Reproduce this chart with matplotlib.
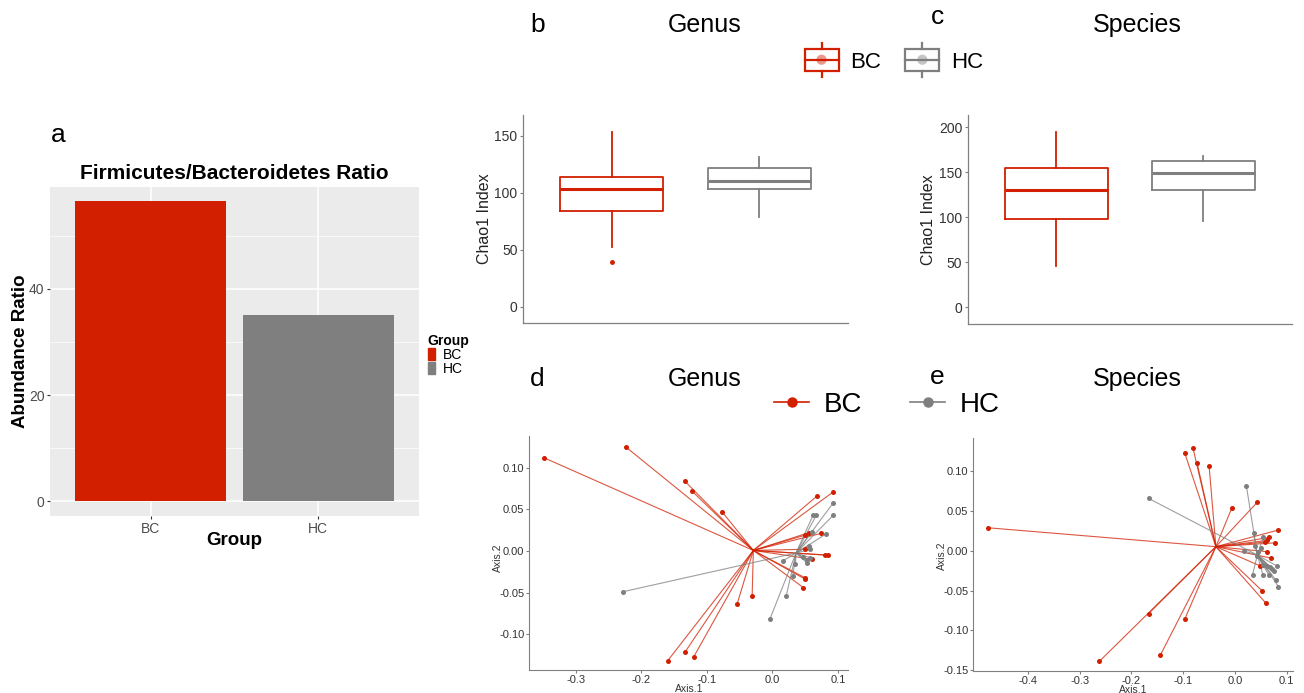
import matplotlib
matplotlib.use("Agg")
import numpy as np
from matplotlib import pyplot as plt
from matplotlib.legend_handler import HandlerBase
from matplotlib.lines import Line2D
from matplotlib.patches import Patch, Rectangle, Circle

plt.rcParams['font.family'] = ['Liberation Sans', 'DejaVu Sans']

# panel a - F/B ratio
ratio_groups = ['BC', 'HC']
ratio_values = [56.5, 35.1]
ratio_yticks = [0, 20, 40]

# panels b, c - Chao1 boxes: whislo, q1, med, q3, whishi
genus_chao_bc = [52.6, 84.2, 103.2, 113.5, 153.2]
genus_chao_bc_out = [39.2]
genus_chao_hc = [78.4, 103.2, 110.3, 121.4, 131.6]
genus_chao_hc_out = []
species_chao_bc = [46.2, 97.7, 130.2, 155.0, 194.2]
species_chao_bc_out = []
species_chao_hc = [96.1, 130.2, 149.4, 162.4, 167.9]
species_chao_hc_out = []
genus_chao_ticks = [0, 50, 100, 150]
species_chao_ticks = [0, 50, 100, 150, 200]

# panels d, e - PCoA points
genus_bc_x = [-0.349, -0.224, -0.134, -0.123, -0.077, 0.068, 0.093, 0.056, 0.074, 0.050, 0.050,
              0.080, 0.085, 0.061, 0.049, 0.050, 0.047, -0.054, -0.031, -0.133, -0.120, -0.160]
genus_bc_y = [0.112, 0.125, 0.084, 0.072, 0.047, 0.066, 0.071, 0.022, 0.021, 0.019, 0.002,
              -0.005, -0.005, -0.010, -0.032, -0.034, -0.044, -0.064, -0.054, -0.121, -0.127, -0.132]
genus_hc_x = [-0.228, -0.004, 0.021, 0.031, 0.016, 0.035, 0.046, 0.052, 0.057, 0.052, 0.055,
              0.058, 0.060, 0.081, 0.062, 0.067, 0.093, 0.093]
genus_hc_y = [-0.049, -0.082, -0.054, -0.030, -0.012, -0.016, -0.007, -0.011, -0.008, -0.014, 0.006,
              0.002, 0.023, 0.020, 0.043, 0.043, 0.043, 0.058]
species_bc_x = [-0.477, -0.097, -0.081, -0.073, -0.050, -0.006, 0.043, 0.083, 0.066, 0.061, 0.059,
                0.077, 0.061, 0.069, 0.049, 0.052, 0.060, -0.167, -0.262, -0.144, -0.097]
species_bc_y = [0.029, 0.123, 0.129, 0.110, 0.107, 0.054, 0.061, 0.026, 0.017, 0.013, 0.011,
                0.010, -0.001, -0.009, -0.019, -0.050, -0.066, -0.079, -0.139, -0.131, -0.086]
species_hc_x = [-0.167, 0.022, 0.036, 0.055, 0.039, 0.050, 0.017, 0.045, 0.042, 0.054, 0.061,
                0.068, 0.072, 0.081, 0.076, 0.034, 0.054, 0.065, 0.079, 0.084]
species_hc_y = [0.066, 0.082, 0.022, 0.018, 0.006, 0.004, 0.000, -0.001, -0.007, -0.018, -0.019,
                -0.020, -0.023, -0.019, -0.026, -0.030, -0.030, -0.030, -0.037, -0.045]
genus_xticks = [-0.3, -0.2, -0.1, 0.0, 0.1]
genus_yticks = [-0.10, -0.05, 0.00, 0.05, 0.10]
species_xticks = [-0.4, -0.3, -0.2, -0.1, 0.0, 0.1]
species_yticks = [-0.15, -0.10, -0.05, 0.00, 0.05, 0.10]

RED = '#D11F00'
GRAY = '#7F7F7F'
W, H = 1304, 693


def fx(x):
    return x / W


def fy(y):
    return 1 - y / H


class BoxKey(HandlerBase):
    def create_artists(self, legend, orig_handle, xdescent, ydescent, width, height, fontsize, trans):
        c = orig_handle.get_color()
        x0 = -xdescent
        cx = x0 + width / 2
        cy = -ydescent + height / 2
        h = fontsize * 0.5
        box = Rectangle((x0, cy - h), width, 2 * h, fill=False, ec=c, lw=1.6, transform=trans)
        med = Line2D([x0, x0 + width], [cy, cy], color=c, lw=1.6, transform=trans)
        top = Line2D([cx, cx], [cy + h, cy + 1.55 * h], color=c, lw=1.6, transform=trans)
        bot = Line2D([cx, cx], [cy - h, cy - 1.55 * h], color=c, lw=1.6, transform=trans)
        dot = Circle((cx, cy), fontsize * 0.23, color=c, alpha=0.45, lw=0, transform=trans)
        return [box, med, top, bot, dot]


fig = plt.figure(figsize=(W / 100, H / 100), dpi=100)

# ---- a: bar chart, ggplot grey theme
ax = fig.add_axes([fx(50), fy(516), fx(369), 329 / H])
ax.set_facecolor('#EBEBEB')
ax.bar([1, 2], ratio_values, width=0.9, color=[RED, GRAY], zorder=2)
ax.set_xlim(0.4, 2.6)
ax.set_ylim(-2.8, 59.2)
ax.set_xticks([1, 2], ratio_groups)
ax.set_yticks(ratio_yticks)
ax.set_yticks([10, 30, 50], minor=True)
ax.grid(which='major', color='white', lw=1.1, zorder=0)
ax.grid(which='minor', axis='y', color='white', lw=0.5, zorder=0)
ax.set_axisbelow(True)
for s in ax.spines.values():
    s.set_visible(False)
ax.tick_params(which='major', length=2.5, width=0.8, color='#333333', labelsize=10, labelcolor='#4D4D4D', pad=1.5)
ax.tick_params(which='minor', length=0)
ax.set_title('Firmicutes/Bacteroidetes Ratio', fontsize=15, fontweight='bold', pad=6)
ax.set_xlabel('Group', fontsize=13.5, fontweight='bold', va='top')
ax.xaxis.set_label_coords(0.5, -0.05)
ax.set_ylabel('Abundance Ratio', fontsize=13.5, fontweight='bold', va='center')
ax.yaxis.set_label_coords(-0.081, 0.5)
ax.legend([Patch(color=RED), Patch(color=GRAY)], ratio_groups, title='Group', loc='center left',
          bbox_to_anchor=(1.024, 0.49), frameon=False, fontsize=10,
          title_fontproperties={'weight': 'bold', 'size': 10}, alignment='left',
          handlelength=0.55, handleheight=0.9, labelspacing=0, handletextpad=0.5, borderpad=0,
          borderaxespad=0)
fig.text(fx(58), fy(141.7), 'a', fontsize=19, ha='center', va='baseline')


# ---- b, c: Chao1 boxplots
def chao_panel(rect, bc, bc_out, hc, hc_out, ticks, ylim):
    ax = fig.add_axes(rect)
    for pos, vals, out, col in [(1, bc, bc_out, RED), (2, hc, hc_out, GRAY)]:
        st = dict(whislo=vals[0], q1=vals[1], med=vals[2], q3=vals[3], whishi=vals[4], fliers=out)
        ax.bxp([st], positions=[pos], widths=0.7, showcaps=False,
               boxprops=dict(color=col, lw=1.3), whiskerprops=dict(color=col, lw=1.3),
               medianprops=dict(color=col, lw=2.2),
               flierprops=dict(marker='o', markersize=2.5, markerfacecolor=col, markeredgecolor=col))
    ax.set_xlim(0.4, 2.6)
    ax.set_ylim(*ylim)
    ax.set_yticks(ticks)
    ax.set_xticks([])
    for s in ['top', 'right']:
        ax.spines[s].set_visible(False)
    for s in ['left', 'bottom']:
        ax.spines[s].set_color('#808080')
        ax.spines[s].set_linewidth(0.9)
    ax.tick_params(axis='y', length=2.5, color='#808080', labelsize=10, labelcolor='#333333', pad=1.5)
    ax.set_ylabel('Chao1 Index', fontsize=11.5, color='#222222', va='center')
    return ax


ax = chao_panel([fx(523), fy(323), fx(325), 208 / H], genus_chao_bc, genus_chao_bc_out,
                genus_chao_hc, genus_chao_hc_out, genus_chao_ticks, (-14.3, 168))
ax.yaxis.set_label_coords(-0.117, 0.5)
ax = chao_panel([fx(967.7), fy(324.3), fx(324), 209.3 / H], species_chao_bc, species_chao_bc_out,
                species_chao_hc, species_chao_hc_out, species_chao_ticks, (-18.9, 213.4))
ax.yaxis.set_label_coords(-0.1195, 0.5)

fig.legend([Line2D([], [], color=RED), Line2D([], [], color=GRAY)], ['BC', 'HC'], loc='center',
           bbox_to_anchor=(fx(894), fy(62)), ncol=2, frameon=False, fontsize=16, handlelength=1.53,
           handletextpad=0.54, columnspacing=1.08, borderpad=0, handler_map={Line2D: BoxKey()})


# ---- d, e: PCoA with spider lines to group centroid
def pcoa_panel(rect, bcx, bcy, hcx, hcy, xticks, yticks, xlim, ylim):
    ax = fig.add_axes(rect)
    for xs, ys, col in [(bcx, bcy, RED), (hcx, hcy, GRAY)]:
        cx, cy = np.mean(xs), np.mean(ys)
        for x, y in zip(xs, ys):
            ax.plot([cx, x], [cy, y], color=col, lw=0.8, alpha=0.75, zorder=1)
    ax.scatter(bcx, bcy, s=13, color=RED, zorder=3, lw=0)
    ax.scatter(hcx, hcy, s=13, color=GRAY, zorder=3, lw=0)
    ax.set_xlim(*xlim)
    ax.set_ylim(*ylim)
    ax.set_xticks(xticks)
    ax.set_yticks(yticks)
    ax.set_xticklabels(['%.1f' % t for t in xticks])
    ax.set_yticklabels(['%.2f' % t for t in yticks])
    for s in ['top', 'right']:
        ax.spines[s].set_visible(False)
    for s in ['left', 'bottom']:
        ax.spines[s].set_color('#808080')
        ax.spines[s].set_linewidth(0.8)
    ax.tick_params(length=2, color='#808080', labelsize=8, labelcolor='#333333', pad=1.5)
    ax.set_xlabel('Axis.1', fontsize=7.5, color='#333333', va='top')
    ax.set_ylabel('Axis.2', fontsize=7.5, color='#333333', va='center')
    return ax


ax = pcoa_panel([fx(529.3), fy(670), fx(319), 234 / H], genus_bc_x, genus_bc_y, genus_hc_x, genus_hc_y,
                genus_xticks, genus_yticks, (-0.371, 0.1157), (-0.143, 0.138))
ax.xaxis.set_label_coords(0.5006, -0.06)
ax.yaxis.set_label_coords(-0.098, 0.479)
ax = pcoa_panel([fx(973.3), fy(671.3), fx(319.4), 233 / H], species_bc_x, species_bc_y, species_hc_x, species_hc_y,
                species_xticks, species_yticks, (-0.5057, 0.1116), (-0.1516, 0.1416))
ax.xaxis.set_label_coords(0.5016, -0.059)
ax.yaxis.set_label_coords(-0.099, 0.497)

fig.legend([Line2D([], [], color=RED, marker='o', markersize=6.5, lw=1.2),
            Line2D([], [], color=GRAY, marker='o', markersize=6.5, lw=1.2)], ['BC', 'HC'], loc='center',
           bbox_to_anchor=(fx(887), fy(405)), ncol=2, frameon=False, fontsize=20, handlelength=1.26,
           handletextpad=0.53, columnspacing=1.73, borderpad=0)

# panel letters and titles
fig.text(fx(537.5), fy(32), 'b', fontsize=19, ha='center', va='baseline')
fig.text(fx(937), fy(24), 'c', fontsize=19, ha='center', va='baseline')
fig.text(fx(537.5), fy(386), 'd', fontsize=19, ha='center', va='baseline')
fig.text(fx(937), fy(384), 'e', fontsize=19, ha='center', va='baseline')
fig.text(fx(705), fy(32.3), 'Genus', fontsize=18, ha='center', va='baseline')
fig.text(fx(1137), fy(32.3), 'Species', fontsize=18, ha='center', va='baseline')
fig.text(fx(705), fy(386), 'Genus', fontsize=18, ha='center', va='baseline')
fig.text(fx(1137), fy(386), 'Species', fontsize=18, ha='center', va='baseline')

fig.savefig('out.png', dpi=100)
